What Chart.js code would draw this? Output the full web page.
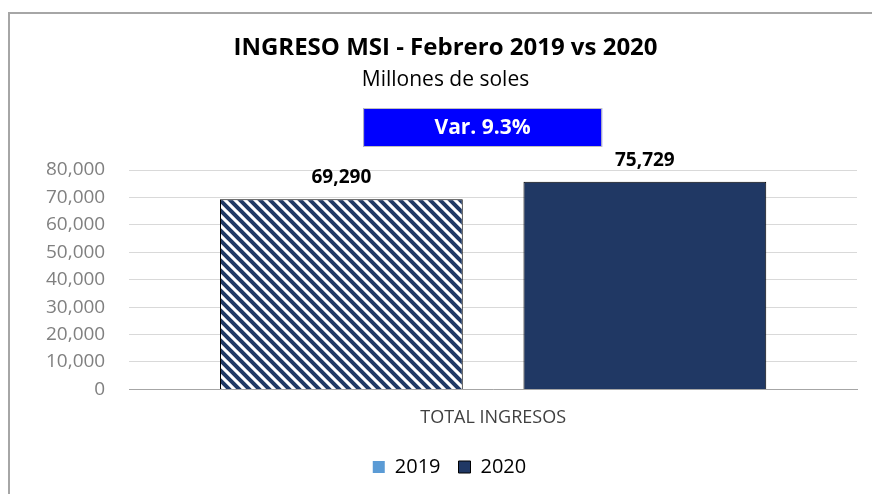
<!DOCTYPE html>
<html>
<head>
<meta charset="utf-8">
<script src="https://cdn.jsdelivr.net/npm/chart.js@4.4.0/dist/chart.umd.min.js"></script>
<style>
  html, body { margin: 0; padding: 0; background: #fff; }
  #wrap { width: 872px; height: 494px; position: relative; }
  #frame { position: absolute; left: 8px; top: 12px; width: 900px; height: 520px;
           border: 2px solid #a6a6a6; box-sizing: border-box; }
</style>
</head>
<body>
<div id="wrap">
  <div id="frame"></div>
  <canvas id="ingresoChart" width="872" height="494"></canvas>
</div>
<script>
// datos del grafico
const categories = ['TOTAL INGRESOS'];
const years = ['2019', '2020'];
const values2019 = [69290];
const values2020 = [75729];
const variation = 'Var. 9.3%';

//Function to build the hatch for 2019
function makeHatch() {
  const s = 10;
  const c = document.createElement('canvas');
  c.width = s; c.height = s;
  const g = c.getContext('2d');
  g.fillStyle = '#ffffff';
  g.fillRect(0, 0, s, s);
  g.strokeStyle = '#1f3864';
  g.lineWidth = 4;
  g.beginPath();
  g.moveTo(-1, -1); g.lineTo(s + 1, s + 1);
  g.moveTo(-3, s - 3); g.lineTo(3, s + 3);
  g.moveTo(s - 3, -3); g.lineTo(s + 3, 3);
  g.stroke();
  return g.createPattern(c, 'repeat');
}

const fontFam = '"Open Sans", sans-serif';

// labels over bars + the blue variation box
const extrasPlugin = {
  id: 'extras',
  afterLayout(chart) {
    // the title, subtitle and legend sit a bit right of centre in the original
    chart.boxes.forEach((b) => {
      if (b instanceof Chart.Scale) return;
      const dx = b === chart.legend ? 10 : 6;
      b.left += dx;
      b.right += dx;
    });
  },
  afterDatasetsDraw(chart) {
    const ctx = chart.ctx;
    ctx.save();
    ctx.font = 'bold 19px ' + fontFam;
    ctx.fillStyle = '#000';
    ctx.textAlign = 'center';
    ctx.textBaseline = 'alphabetic';
    chart.data.datasets.forEach((ds, i) => {
      chart.getDatasetMeta(i).data.forEach((bar, j) => {
        ctx.fillText(ds.data[j].toLocaleString('en-US'), bar.x, bar.y - 16);
      });
    });
    // variation box
    const area = chart.chartArea;
    const cx = (area.left + area.right) / 2 - 10.5;
    const w = 239, h = 39;
    const top = area.top - 62;
    ctx.fillStyle = '#0000ff';
    ctx.fillRect(cx - w / 2, top, w, h);
    ctx.strokeStyle = '#bfbfbf';
    ctx.lineWidth = 1;
    ctx.strokeRect(cx - w / 2 + 0.5, top + 0.5, w - 1, h - 1);
    ctx.fillStyle = '#fff';
    ctx.font = 'bold 21px ' + fontFam;
    ctx.textBaseline = 'middle';
    ctx.fillText(variation, cx, top + h / 2 + 1);
    ctx.restore();
  }
};

window.addEventListener('DOMContentLoaded', function () {
  const ctx = document.getElementById('ingresoChart').getContext('2d');

  new Chart(ctx, {
    type: 'bar',
    data: {
      labels: categories,
      datasets: [{
        label: years[0],
        data: values2019,
        backgroundColor: makeHatch(),
        borderColor: '#000',
        borderWidth: 1
      }, {
        label: years[1],
        data: values2020,
        backgroundColor: '#203864',
        borderColor: '#000',
        borderWidth: 1
      }]
    },
    options: {
      responsive: false,
      animation: false,
      categoryPercentage: 0.834,
      barPercentage: 0.8,
      layout: { padding: { top: 12, left: 22, right: 15, bottom: 7 } },
      scales: {
        x: {
          grid: { display: false },
          border: { color: '#a6a6a6' },
          ticks: { color: '#404040', font: { family: fontFam, size: 18 }, padding: 10 }
        },
        y: {
          min: 0,
          max: 80000,
          ticks: {
            stepSize: 10000,
            color: '#808080',
            padding: 24,
            font: { family: fontFam, size: 19 },
            callback: (v) => v.toLocaleString('en-US')
          },
          grid: { color: '#d9d9d9', drawTicks: false },
          border: { display: false }
        }
      },
      plugins: {
        title: {
          display: true,
          text: 'INGRESO MSI - Febrero 2019 vs 2020',
          color: '#000',
          font: { family: fontFam, size: 24, weight: 'bold' },
          padding: { top: 22, bottom: 5 }
        },
        subtitle: {
          display: true,
          text: 'Millones de soles',
          color: '#000',
          font: { family: fontFam, size: 21 },
          padding: { top: 0, bottom: 77 }
        },
        legend: {
          position: 'bottom',
          labels: {
            boxWidth: 12,
            boxHeight: 12,
            padding: 18,
            color: '#1a1a1a',
            font: { family: fontFam, size: 20 },
            generateLabels: (chart) => [
              { text: years[0], fillStyle: '#5b9bd5', strokeStyle: '#5b9bd5', lineWidth: 0, datasetIndex: 0 },
              { text: years[1], fillStyle: '#203864', strokeStyle: '#000', lineWidth: 1, datasetIndex: 1 }
            ]
          }
        },
        tooltip: { enabled: false }
      }
    },
    plugins: [extrasPlugin]
  });
});
</script>
</body>
</html>
